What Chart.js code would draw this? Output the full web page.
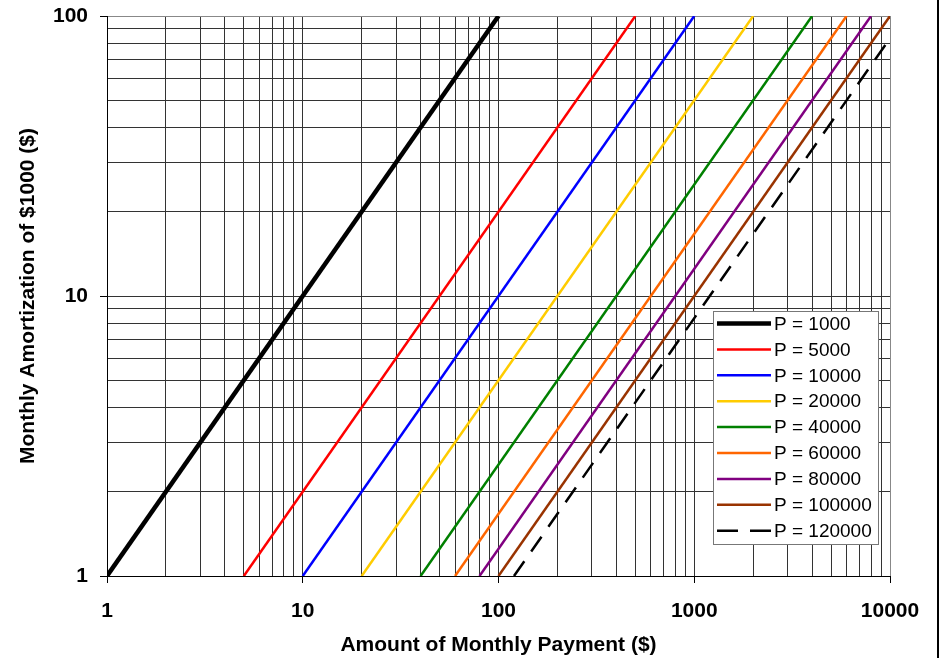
<!DOCTYPE html>
<html>
<head>
<meta charset="utf-8">
<script src="https://cdn.jsdelivr.net/npm/chart.js@4/dist/chart.umd.min.js"></script>
<style>
  html, body { margin: 0; padding: 0; background: #fff; }
  #wrap { position: relative; width: 942px; height: 658px; }
</style>
</head>
<body>
<div id="wrap"><canvas id="amortChart" width="942" height="658"></canvas></div>
<script>
// Datos (rectas en escala log-log, extremos de cada una)
const seriesLabels = ['P = 1000', 'P = 5000', 'P = 10000', 'P = 20000', 'P = 40000',
                      'P = 60000', 'P = 80000', 'P = 100000', 'P = 120000'];
const startPayment = [1, 5, 10, 20, 40, 60, 80, 100, 120];
const startAmort   = [1, 1, 1, 1, 1, 1, 1, 1, 1];
const endPayment   = [100, 500, 1000, 2000, 4000, 6000, 8000, 10000, 10000];
const endAmort     = [100, 100, 100, 100, 100, 100, 100, 100, 83.3];

const seriesColors = ['#000000', '#FF0000', '#0000FF', '#FFCC00', '#008000',
                      '#FF6600', '#800080', '#993300', '#000000'];

// Ticks de los ejes
const xMajorTicks = [1, 10, 100, 1000, 10000];
const yMajorTicks = [1, 10, 100];
const gridSteps = [1, 2, 3, 4, 5, 6, 7, 8, 9];

function buildLogTicks(majors) {
    const ticks = [];
    majors.forEach(function(m, i) {
        if (i === majors.length - 1) {
            ticks.push({ value: m, major: true });
            return;
        }
        gridSteps.forEach(function(s) {
            ticks.push({ value: m * s, major: s === 1 });
        });
    });
    return ticks;
}

const datasets = seriesLabels.map(function(label, i) {
    const isDashed = i === seriesLabels.length - 1;
    return {
        label: label,
        data: [
            { x: startPayment[i], y: startAmort[i] },
            { x: endPayment[i], y: endAmort[i] }
        ],
        borderColor: seriesColors[i],
        backgroundColor: seriesColors[i],
        borderWidth: i === 0 ? 4.5 : 2.5,
        borderDash: isDashed ? [18, 12] : [],
        pointRadius: 0,
        tension: 0,
        fill: false
    };
});

// Leyenda dibujada dentro del área de la gráfica
const insideLegend = {
    id: 'insideLegend',
    afterDraw(chart) {
        const ctx = chart.ctx;
        const area = chart.chartArea;
        const w = 165, h = 233;
        const x0 = area.right - 12 - w;
        const y0 = area.bottom - 32 - h;
        ctx.save();
        ctx.fillStyle = '#fff';
        ctx.fillRect(x0, y0, w, h);
        ctx.strokeStyle = '#777';
        ctx.lineWidth = 1;
        ctx.strokeRect(x0 + 0.5, y0 + 0.5, w, h);
        ctx.font = '19px Arial, "Liberation Sans", sans-serif';
        ctx.textBaseline = 'middle';
        ctx.fillStyle = '#000';
        chart.data.datasets.forEach(function(ds, i) {
            const cy = y0 + 12.5 + i * 25.9;
            ctx.beginPath();
            ctx.strokeStyle = ds.borderColor;
            ctx.lineWidth = i === 0 ? 4.5 : 2.5;
            ctx.setLineDash(ds.borderDash.length ? [21, 12] : []);
            ctx.moveTo(x0 + 4, cy);
            ctx.lineTo(x0 + 58, cy);
            ctx.stroke();
            ctx.setLineDash([]);
            ctx.fillText(ds.label, x0 + 61, cy + 1);
        });
        // línea del marco derecho
        ctx.fillStyle = '#000';
        ctx.fillRect(937, 0, 2, chart.height);
        ctx.restore();
    }
};

const edgeGray = '#888';
const gridDark = '#333';

new Chart(document.getElementById('amortChart').getContext('2d'), {
    type: 'line',
    data: { datasets: datasets },
    plugins: [insideLegend],
    options: {
        responsive: false,
        animation: false,
        events: [],
        layout: { padding: { top: 16, right: 52, bottom: 0, left: 0 } },
        plugins: {
            legend: { display: false },
            tooltip: { enabled: false }
        },
        scales: {
            x: {
                type: 'logarithmic',
                min: 1,
                max: 10000,
                afterBuildTicks: function(scale) { scale.ticks = buildLogTicks(xMajorTicks); },
                afterFit: function(scale) {
                    scale.height = 82;
                    scale.paddingLeft = 0;
                    scale.paddingRight = 0;
                },
                ticks: {
                    autoSkip: false,
                    maxRotation: 0,
                    padding: 16,
                    color: '#000',
                    font: { family: 'Arial, "Liberation Sans", sans-serif', size: 21, weight: 'bold' },
                    callback: function(value) {
                        return xMajorTicks.includes(value) ? String(value) : '';
                    }
                },
                grid: {
                    color: function(c) { return c.tick && c.tick.value === 10000 ? edgeGray : gridDark; },
                    tickColor: function(c) { return c.tick && c.tick.major ? '#000' : 'rgba(0,0,0,0)'; },
                    tickLength: 7,
                    lineWidth: 1
                },
                border: { color: '#000', width: 1 },
                title: {
                    display: true,
                    text: 'Amount of Monthly Payment ($)',
                    color: '#000',
                    padding: { top: 0, bottom: 0 },
                    font: { family: 'Arial, "Liberation Sans", sans-serif', size: 21, weight: 'bold' }
                }
            },
            y: {
                type: 'logarithmic',
                min: 1,
                max: 100,
                afterBuildTicks: function(scale) { scale.ticks = buildLogTicks(yMajorTicks); },
                afterFit: function(scale) {
                    scale.width = 107;
                    scale.paddingTop = 0;
                    scale.paddingBottom = 0;
                },
                ticks: {
                    autoSkip: false,
                    padding: 12,
                    color: '#000',
                    font: { family: 'Arial, "Liberation Sans", sans-serif', size: 21, weight: 'bold' },
                    callback: function(value) {
                        return yMajorTicks.includes(value) ? String(value) : '';
                    }
                },
                grid: {
                    color: function(c) { return c.tick && c.tick.value === 100 ? edgeGray : gridDark; },
                    tickColor: function(c) { return c.tick && c.tick.major ? '#000' : 'rgba(0,0,0,0)'; },
                    tickLength: 7,
                    lineWidth: 1
                },
                border: { color: '#000', width: 1 },
                title: {
                    display: true,
                    text: 'Monthly Amortization of $1000 ($)',
                    color: '#000',
                    padding: { top: 16, bottom: 0 },
                    font: { family: 'Arial, "Liberation Sans", sans-serif', size: 21, weight: 'bold' }
                }
            }
        }
    }
});
</script>
</body>
</html>
